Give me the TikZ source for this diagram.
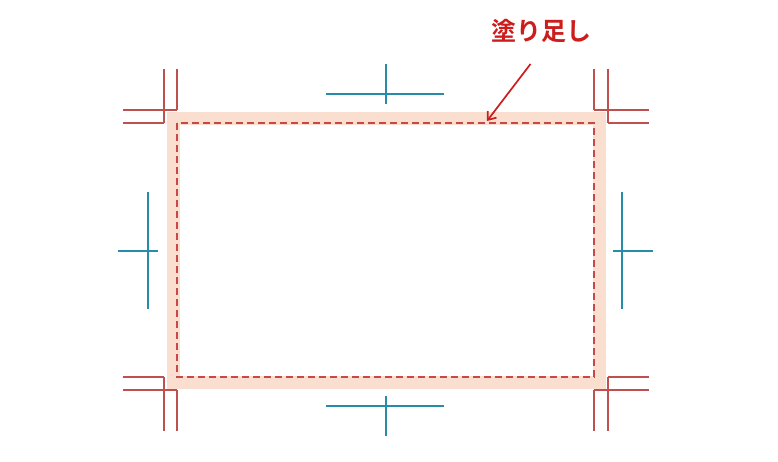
\documentclass[tikz,border=0pt]{standalone}
\usepackage{fontspec}
\newfontfamily\cjk{Noto Sans CJK JP}[BoldFont={Noto Sans CJK JP Bold}]
\usetikzlibrary{arrows.meta}
\definecolor{markred}{RGB}{190,80,80}
\definecolor{trimred}{RGB}{200,72,72}
\definecolor{bleedpink}{RGB}{250,222,208}
\definecolor{centerblue}{RGB}{38,140,168}
\definecolor{labelred}{RGB}{204,28,28}
\tikzset{
  cropmark/.style={draw=markred, line width=1.7pt},
  centermark/.style={draw=centerblue, line width=2pt},
  bleedband/.style={draw=bleedpink, line width=13pt},
  trimline/.style={draw=trimred, line width=1.6pt, dash pattern=on 7pt off 4pt},
  labeltext/.style={font=\cjk\bfseries\fontsize{25}{30}\selectfont, text=labelred, inner sep=0pt},
  pointer/.style={draw=labelred, line width=1.7pt, -{Straight Barb[length=7pt,width=11pt,line width=1.7pt]}}
}
\begin{document}
\begin{tikzpicture}[x=1pt,y=-1pt]
\useasboundingbox (0,0) rectangle (778,462);
% bleed band
\draw[bleedband] (173.5,118.5) rectangle (599.5,382.5);
% trim line
\draw[trimline] (177,123) rectangle (594,377);
% corner marks: top-left
\draw[cropmark] (164,69) -- (164,123) (177,69) -- (177,110)
  (123,110) -- (177,110) (123,123) -- (164,123);
% top-right
\draw[cropmark] (594,69) -- (594,110) (608,69) -- (608,123)
  (594,110) -- (649,110) (608,123) -- (649,123);
% bottom-left
\draw[cropmark] (123,377) -- (164,377) (123,390) -- (177,390)
  (164,377) -- (164,431) (177,390) -- (177,431);
% bottom-right
\draw[cropmark] (608,377) -- (649,377) (594,390) -- (649,390)
  (594,390) -- (594,431) (608,377) -- (608,431);
% center marks
\draw[centermark] (326,94) -- (444,94) (386,64) -- (386,104);
\draw[centermark] (326,406) -- (444,406) (386,396) -- (386,436);
\draw[centermark] (148,192) -- (148,309) (118,251) -- (158,251);
\draw[centermark] (622,192) -- (622,309) (613,251) -- (653,251);
% label and pointer
\node[labeltext] (label) at (541,31) {塗り足し};
\coordinate (pstart) at (530.5,64);
\coordinate (ptip) at (487,121);
\draw[pointer] (pstart) -- (ptip);
\end{tikzpicture}
\end{document}
